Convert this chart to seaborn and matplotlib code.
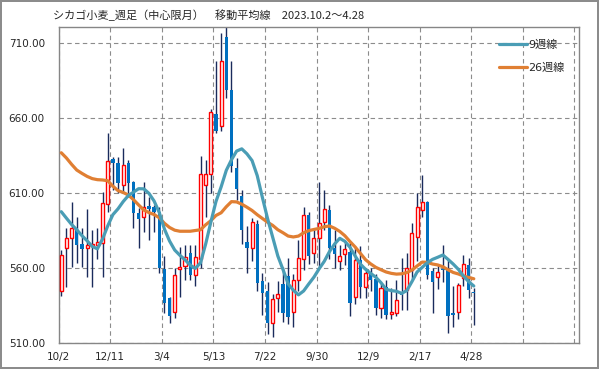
import numpy as np
import pandas as pd
import seaborn as sns
import matplotlib.pyplot as plt

# weekly candles
opens = [545.0, 573.1, 579.8, 586.4, 575.8, 573.1, 575.0, 575.3, 576.9, 602.4,
         632.3, 629.6, 615.2, 629.6, 617.4, 596.8, 593.7, 601.3, 600.4, 597.5,
         559.4, 539.9, 531.0, 559.2, 561.6, 570.2, 555.4, 566.0, 615.5, 622.6,
         662.4, 654.3, 713.4, 678.6, 626.5, 608.0, 577.6, 573.6, 589.1, 551.4,
         544.8, 523.2, 540.3, 549.2, 554.9, 531.0, 552.1, 566.0, 595.3, 569.8,
         579.8, 590.4, 598.6, 573.6, 564.7, 569.2, 570.9, 541.0, 565.4, 547.7,
         557.0, 552.5, 533.2, 547.7, 529.7, 530.4, 544.0, 545.4, 558.7, 580.9,
         598.6, 603.7, 558.1, 554.3, 559.6, 559.2, 529.9, 530.6, 553.2, 562.1,
         543.9]
highs = [572.0, 586.9, 604.2, 594.2, 586.4, 599.0, 585.3, 586.4, 610.8, 649.6,
         633.7, 634.1, 639.6, 632.0, 618.0, 600.0, 617.4, 607.0, 602.0, 600.9,
         568.0, 541.0, 559.8, 574.3, 575.3, 575.3, 575.3, 634.3, 632.0, 665.8,
         697.5, 716.3, 721.0, 698.0, 633.0, 612.0, 588.0, 593.0, 592.0, 556.5,
         551.0, 543.0, 551.4, 561.0, 567.0, 555.8, 578.7, 600.9, 597.0, 586.4,
         617.4, 611.9, 602.0, 585.0, 575.3, 578.0, 578.2, 575.0, 575.0, 559.0,
         560.0, 556.0, 550.0, 552.0, 547.0, 552.0, 567.0, 569.8, 590.0, 610.0,
         621.9, 604.5, 560.0, 562.0, 575.4, 565.4, 548.0, 550.0, 569.0, 566.6,
         546.5]
lows = [541.4, 547.2, 560.9, 563.2, 560.5, 554.3, 547.7, 565.8, 554.3, 597.0,
        612.0, 610.1, 610.0, 607.0, 586.4, 573.1, 584.2, 578.7, 584.2, 556.5,
        530.4, 523.3, 526.6, 541.0, 552.0, 552.1, 548.0, 560.0, 593.7, 609.7,
        649.8, 651.0, 673.0, 624.0, 605.0, 576.0, 557.0, 565.0, 545.0, 528.8,
        516.0, 514.4, 531.0, 524.0, 523.0, 520.6, 545.0, 558.7, 563.0, 563.1,
        559.8, 585.0, 566.0, 560.0, 558.6, 562.0, 528.2, 536.0, 540.0, 540.0,
        545.0, 529.0, 527.0, 526.0, 526.0, 528.0, 532.0, 532.0, 553.0, 565.0,
        594.0, 553.0, 529.9, 546.0, 551.0, 517.1, 520.6, 526.0, 548.0, 540.0,
        522.0]
closes = [568.5, 579.8, 586.4, 575.3, 572.4, 575.1, 576.0, 577.5, 603.1, 631.4,
          629.6, 616.3, 628.5, 616.3, 596.4, 592.6, 600.4, 599.0, 597.5, 559.8,
          537.0, 528.4, 555.4, 560.5, 567.6, 555.4, 567.1, 622.6, 622.6, 663.8,
          651.3, 697.5, 678.6, 627.6, 612.8, 585.0, 573.6, 590.5, 549.9, 543.2,
          523.5, 539.4, 542.5, 529.9, 527.7, 552.0, 566.9, 595.3, 568.2, 579.8,
          589.8, 599.3, 573.6, 569.2, 568.2, 572.5, 536.6, 565.4, 547.7, 557.0,
          552.1, 533.2, 546.8, 528.8, 530.6, 538.8, 542.0, 559.8, 583.1, 600.4,
          604.1, 555.4, 551.0, 557.2, 558.7, 528.3, 529.0, 548.8, 562.5, 545.4,
          543.2]

# moving averages as drawn
ma9 = [597.5, 593.2, 589.0, 585.5, 581.6, 578.2, 574.4, 572.8, 579.3, 588.0,
       595.5, 599.4, 604.2, 608.2, 610.5, 612.8, 612.7, 609.7, 604.6, 597.0,
       586.0, 578.0, 572.0, 568.5, 565.5, 562.0, 559.8, 563.5, 576.0, 590.5,
       604.3, 614.0, 625.0, 632.0, 637.8, 639.3, 636.0, 631.5, 621.5, 607.0,
       593.0, 580.5, 568.0, 559.0, 549.5, 545.3, 542.2, 544.8, 549.5, 554.0,
       559.5, 564.5, 570.9, 576.0, 579.8, 577.8, 573.8, 568.0, 562.7, 559.2,
       556.5, 553.9, 550.3, 545.9, 545.0, 544.6, 543.2, 545.0, 551.0, 557.4,
       560.5, 563.6, 565.8, 567.2, 568.7, 565.8, 562.7, 559.2, 554.7, 551.0,
       548.1]
ma26 = [636.7, 633.2, 629.0, 625.2, 623.0, 621.0, 619.5, 618.8, 618.6, 618.1,
        614.5, 611.5, 610.3, 608.6, 605.5, 602.0, 598.6, 596.9, 595.6, 593.5,
        589.8, 587.0, 585.2, 584.5, 584.5, 584.5, 585.0, 585.5, 588.8, 591.5,
        595.0, 596.8, 600.8, 604.2, 604.0, 602.5, 600.5, 598.3, 595.5, 593.0,
        590.5, 588.4, 585.5, 583.5, 581.3, 580.7, 581.3, 583.5, 584.9, 585.7,
        586.4, 587.5, 588.0, 586.5, 584.4, 581.5, 577.6, 574.0, 569.8, 565.6,
        562.8, 560.5, 558.9, 557.4, 556.5, 556.0, 556.2, 557.0, 558.7, 561.4,
        564.0, 563.8, 562.7, 562.1, 560.9, 558.9, 557.1, 556.1, 554.7, 553.8,
        552.9]

x_labels = ['10/2', '12/11', '3/4', '5/13', '7/22', '9/30', '12/9', '2/17', '4/28', '', '']
y_ticks = [510, 560, 610, 660, 710]

df = pd.DataFrame({'open': opens, 'high': highs, 'low': lows, 'close': closes,
                   'ma9': ma9, 'ma26': ma26})
df['x'] = np.arange(len(df))

sns.set_style('white')
plt.rcParams['font.family'] = ['DejaVu Sans', 'Noto Sans CJK JP']

fig = plt.figure(figsize=(5.99, 3.69), dpi=100)
fig.patch.set_edgecolor('#8c8c8c')
fig.patch.set_linewidth(1.5)
ax = fig.add_axes([0.098, 0.0697, 0.8686, 0.8558])

up = df[df['close'] >= df['open']]
down = df[df['close'] < df['open']]

ax.vlines(df['x'], df['low'], df['high'], color='#1a2b5c', lw=1, zorder=2)
ax.bar(up['x'], (up['close'] - up['open']).clip(lower=0.6), bottom=up['open'],
       width=0.6, facecolor='white', edgecolor='#ff0000', lw=1, zorder=3)
ax.bar(down['x'], (down['open'] - down['close']).clip(lower=0.8), bottom=down['close'],
       width=0.65, color='#0070c0', lw=0, zorder=3)

sns.lineplot(data=df, x='x', y='ma26', ax=ax, color='#e07f33', lw=2.3,
             label='26週線', zorder=4)
sns.lineplot(data=df, x='x', y='ma9', ax=ax, color='#4a9db5', lw=2.3,
             label='9週線', zorder=5)

ax.set_xlim(-0.5, 100.4)
ax.set_ylim(510, 720)
ax.set_xticks(np.arange(-0.5, 100, 10))
ax.set_xticklabels(x_labels)
ax.set_yticks(y_ticks)
ax.set_yticklabels([f'{v:.2f}' for v in y_ticks])
ax.set_xlabel('')
ax.set_ylabel('')
ax.tick_params(axis='both', labelsize=7.5, length=3, color='#868686', direction='out')
ax.tick_params(axis='y', pad=7)
ax.tick_params(axis='x', pad=3)
ax.grid(True, color='#8c8c8c', lw=0.8, ls=(0, (4, 3)))
for s in ax.spines.values():
    s.set_color('#868686')
    s.set_linewidth(1)

handles, labels = ax.get_legend_handles_labels()
ax.legend(handles[::-1], labels[::-1], loc='upper left', bbox_to_anchor=(0.847, 0.962),
          frameon=False, fontsize=8, handlelength=2.5, handletextpad=0.1,
          labelspacing=1.15, borderpad=0, borderaxespad=0)

fig.text(0.088, 0.958, 'シカゴ小麦_週足（中心限月）　移動平均線　2023.10.2～4.28',
         fontsize=8, va='center', ha='left',
         family=['Noto Sans CJK JP', 'DejaVu Sans'])

fig.savefig('out.png', dpi=100, edgecolor=fig.get_edgecolor())
